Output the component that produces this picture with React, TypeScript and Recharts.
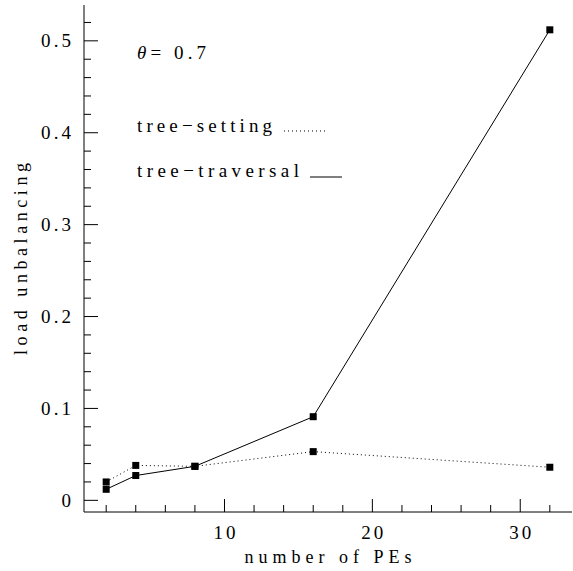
import { LineChart, Line, XAxis, YAxis, Customized } from "recharts";

const PES = [2, 4, 8, 16, 32];
const TREE_SETTING = [0.02, 0.038, 0.037, 0.053, 0.036];
const TREE_TRAVERSAL = [0.012, 0.027, 0.037, 0.091, 0.512];

const X_TICKS = [2, 4, 6, 8, 10, 12, 14, 16, 18, 20, 22, 24, 26, 28, 30, 32];
const X_MAJOR = [10, 20, 30];
const Y_TICKS = [
  0, 0.02, 0.04, 0.06, 0.08, 0.1, 0.12, 0.14, 0.16, 0.18, 0.2, 0.22, 0.24,
  0.26, 0.28, 0.3, 0.32, 0.34, 0.36, 0.38, 0.4, 0.42, 0.44, 0.46, 0.48, 0.5,
  0.52,
];
const Y_MAJOR = [0, 0.1, 0.2, 0.3, 0.4, 0.5];

const data = PES.map((pe, i) => ({
  pe,
  setting: TREE_SETTING[i],
  traversal: TREE_TRAVERSAL[i],
}));

const FONT = "'Liberation Serif', serif";
const INK = "#000";
const txt = { fontFamily: FONT };

const isMajorY = (v: number) => Y_MAJOR.some((m) => Math.abs(m - v) < 1e-6);

function XTick(props: any, side: "bottom" | "top") {
  const { x, y, payload } = props;
  const major = X_MAJOR.includes(payload.value);
  const len = major ? 13 : 7;
  const dir = side === "bottom" ? -1 : 1;
  return (
    <g>
      <line x1={x} x2={x} y1={y} y2={y + dir * len} stroke={INK} />
      {side === "bottom" && major && (
        <text
          x={x}
          y={y + 27}
          textAnchor="middle"
          style={txt}
          fontSize={19}
          fill={INK}
          textLength={22}
          lengthAdjust="spacing"
        >
          {payload.value}
        </text>
      )}
    </g>
  );
}

function YTick(props: any, side: "left" | "right") {
  const { x, y, payload } = props;
  const major = isMajorY(payload.value);
  const len = major ? 14 : 7;
  const dir = side === "left" ? 1 : -1;
  const label = String(payload.value);
  return (
    <g>
      <line x1={x} x2={x + dir * len} y1={y} y2={y} stroke={INK} />
      {side === "left" && major && (
        <text
          x={x - 13}
          y={y + 6.5}
          textAnchor="end"
          style={txt}
          fontSize={19}
          fill={INK}
          textLength={label.length > 1 ? 30 : undefined}
          lengthAdjust="spacing"
        >
          {label}
        </text>
      )}
    </g>
  );
}

function SquareDot(props: any) {
  const { cx, cy } = props;
  if (cx == null || cy == null) return <g />;
  return <rect x={cx - 3.5} y={cy - 3.5} width={7} height={7} fill={INK} />;
}

function Annotations() {
  return (
    <g fill={INK}>
      <text x={137} y={59} style={txt} fontSize={19} textLength={69} lengthAdjust="spacing">
        <tspan fontStyle="italic">θ</tspan>= 0.7
      </text>
      <text x={137} y={132} style={txt} fontSize={19} textLength={135} lengthAdjust="spacing">
        tree−setting
      </text>
      <line
        x1={284}
        x2={327}
        y1={131}
        y2={131}
        stroke={INK}
        strokeDasharray="1 3"
      />
      <text x={137} y={177} style={txt} fontSize={19} textLength={162} lengthAdjust="spacing">
        tree−traversal
      </text>
      <line x1={310} x2={342} y1={177} y2={177} stroke={INK} />
      <text
        x={328}
        y={563}
        style={txt}
        fontSize={18}
        textAnchor="middle"
        textLength={167}
        lengthAdjust="spacing"
      >
        number of PEs
      </text>
      <text
        x={0}
        y={0}
        style={txt}
        fontSize={18}
        textAnchor="middle"
        textLength={192}
        lengthAdjust="spacing"
        transform="translate(27 259) rotate(-90)"
      >
        load unbalancing
      </text>
    </g>
  );
}

export default function App() {
  return (
    <div style={{ position: "absolute", left: 0, top: 0, background: "#fff" }}>
      <LineChart
        width={573}
        height={571}
        data={data}
        margin={{ top: 5, right: 1, bottom: 0, left: 0 }}
      >
        <XAxis
          xAxisId="bottom"
          dataKey="pe"
          type="number"
          domain={[0.5, 33.5]}
          allowDataOverflow
          ticks={X_TICKS}
          interval={0}
          height={59}
          tickSize={0}
          tickMargin={0}
          tickLine={false}
          axisLine={{ stroke: INK }}
          tick={(p: any) => XTick(p, "bottom")}
        />
        <XAxis
          xAxisId="top"
          orientation="top"
          dataKey="pe"
          type="number"
          domain={[0.5, 33.5]}
          allowDataOverflow
          ticks={X_TICKS}
          interval={0}
          height={0}
          tickSize={0}
          tickMargin={0}
          tickLine={false}
          axisLine={{ stroke: INK }}
          tick={(p: any) => XTick(p, "top")}
        />
        <YAxis
          yAxisId="left"
          type="number"
          domain={[-0.0127, 0.539]}
          allowDataOverflow
          ticks={Y_TICKS}
          interval={0}
          width={84}
          tickSize={0}
          tickMargin={0}
          tickLine={false}
          axisLine={{ stroke: INK }}
          tick={(p: any) => YTick(p, "left")}
        />
        <YAxis
          yAxisId="right"
          orientation="right"
          type="number"
          domain={[-0.0127, 0.539]}
          allowDataOverflow
          ticks={Y_TICKS}
          interval={0}
          width={0}
          tickSize={0}
          tickMargin={0}
          tickLine={false}
          axisLine={{ stroke: INK }}
          tick={(p: any) => YTick(p, "right")}
        />
        <Line
          xAxisId="bottom"
          yAxisId="left"
          dataKey="setting"
          type="linear"
          stroke={INK}
          strokeWidth={1}
          strokeDasharray="1 3"
          dot={<SquareDot />}
          activeDot={false}
          isAnimationActive={false}
        />
        <Line
          xAxisId="bottom"
          yAxisId="left"
          dataKey="traversal"
          type="linear"
          stroke={INK}
          strokeWidth={1}
          dot={<SquareDot />}
          activeDot={false}
          isAnimationActive={false}
        />
        <Customized component={Annotations} />
      </LineChart>
    </div>
  );
}
